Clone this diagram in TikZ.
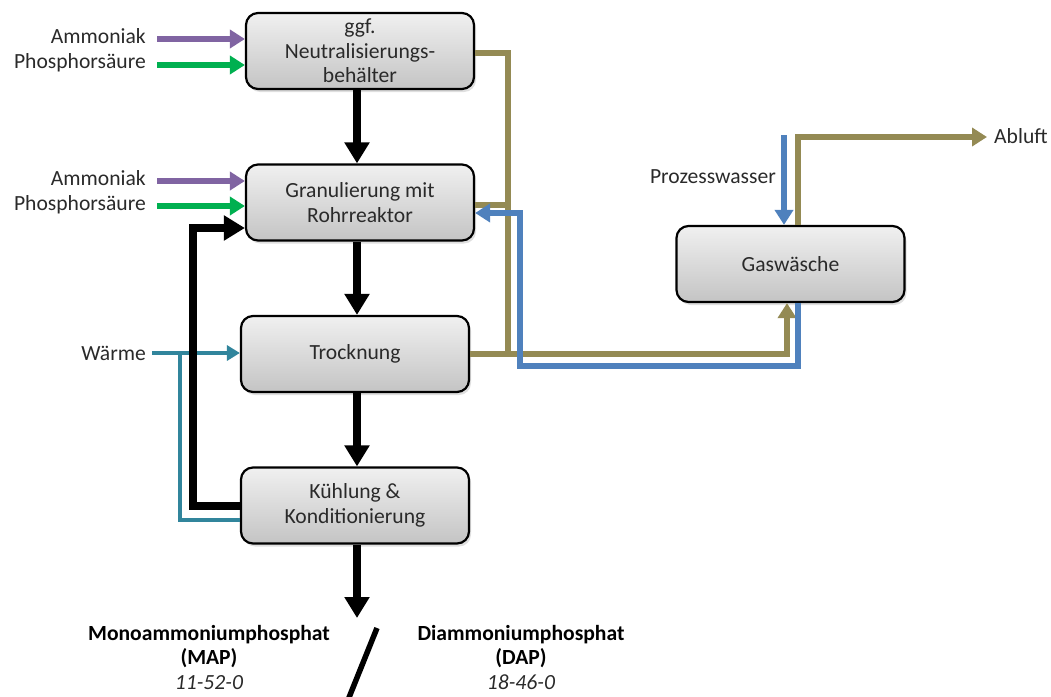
\documentclass[tikz,border=0pt]{standalone}
\usepackage{fontspec}
\setmainfont{Carlito}
\usetikzlibrary{arrows.meta,shadows}

\definecolor{feedpurple}{HTML}{8064A2}
\definecolor{feedgreen}{HTML}{00B050}
\definecolor{gasolive}{HTML}{948A54}
\definecolor{waterblue}{HTML}{4F81BD}
\definecolor{heatteal}{HTML}{31859C}
\definecolor{txtgray}{HTML}{2A2A2A}
\definecolor{boxtop}{RGB}{240,240,240}
\definecolor{boxbottom}{RGB}{196,196,196}

\begin{document}
\begin{tikzpicture}[x=1pt,y=-1pt,
  font=\fontsize{21.6}{24.5}\selectfont,
  stage/.style={draw=black, line width=2.2pt, rounded corners=12pt,
    minimum width=228pt, minimum height=76pt, inner sep=0pt,
    align=center, text=txtgray, top color=boxtop, bottom color=boxbottom,
    drop shadow={opacity=0.25, shadow xshift=2pt, shadow yshift=-3pt}},
  lbl/.style={text=txtgray, inner sep=0pt},
  bigtip/.style={-{Triangle[length=21pt,width=24pt]}},
  smalltip/.style={-{Triangle[length=15pt,width=18pt]}},
  solidflow/.style={draw=black, line width=8pt},
  feedA/.style={draw=feedpurple, line width=6pt, smalltip},
  feedB/.style={draw=feedgreen, line width=6pt, smalltip},
  gasflow/.style={draw=gasolive, line width=6pt},
  waterflow/.style={draw=waterblue, line width=6pt},
  heatflow/.style={draw=heatteal, line width=3.5pt}
]
\useasboundingbox (0,0) rectangle (1051,696);

% process stages
\node[stage] (neut) at (360,51)    {ggf.\\Neutralisierungs-\\behälter};
\node[stage] (gran) at (360,202.5) {Granulierung mit\\Rohrreaktor};
\node[stage] (dry)  at (355,354)   {Trocknung};
\node[stage] (cool) at (355,505.5) {Kühlung \&\\Konditionierung};
\node[stage] (wash) at (790.5,264) {Gaswäsche};

% side labels
\node[lbl, anchor=base east] (ammA)  at (146,43)  {Ammoniak};
\node[lbl, anchor=base east] (phosA) at (146,68)  {Phosphorsäure};
\node[lbl, anchor=base east] (ammB)  at (146,185) {Ammoniak};
\node[lbl, anchor=base east] (phosB) at (146,210) {Phosphorsäure};
\node[lbl, anchor=base east] (heat)  at (146,360) {Wärme};
\node[lbl, anchor=base east] (water) at (776,183) {Prozesswasser};
\node[lbl, anchor=base west] (exhaust) at (994,143) {Abluft};

% products
\node[align=center, text=black, inner sep=0pt] (map) at (209,657)
  {\textbf{Monoammoniumphosphat}\\\textbf{(MAP)}\\{\color{txtgray}\textit{11-52-0}}};
\node[align=center, text=black, inner sep=0pt] (dap) at (521,657)
  {\textbf{Diammoniumphosphat}\\\textbf{(DAP)}\\{\color{txtgray}\textit{18-46-0}}};

% helper coordinates
\coordinate (ammAin)  at (157,39);
\coordinate (phosAin) at (157,65);
\coordinate (ammBin)  at (157,181);
\coordinate (phosBin) at (157,206);
\coordinate (heatin)  at (152,353);
\coordinate (heatsplit) at (180,353);
\coordinate (heatY)   at (0,520);
\coordinate (ax)      at (357,0);
\coordinate (prodend) at (357,618);
\coordinate (recY1)   at (0,506);
\coordinate (recX)    at (193,0);
\coordinate (recY2)   at (0,228);
\coordinate (gasY1)   at (0,53);
\coordinate (gasY2)   at (0,205);
\coordinate (gasX)    at (508,0);
\coordinate (gasX2)   at (787,0);
\coordinate (ablX)    at (798,0);
\coordinate (ablend)  at (987,137);
\coordinate (waterin) at (784,135);
\coordinate (retX)    at (798,0);
\coordinate (retY)    at (0,366);
\coordinate (retX2)   at (520,0);
\coordinate (retY2)   at (0,213);
\coordinate (slashA)  at (377,628);
\coordinate (slashB)  at (348,700);

% raw material feeds
\draw[feedA] (ammAin)  -- (ammAin -| neut.west);
\draw[feedB] (phosAin) -- (phosAin -| neut.west);
\draw[feedA] (ammBin)  -- (ammBin -| gran.west);
\draw[feedB] (phosBin) -- (phosBin -| gran.west);

% heat supply
\draw[heatflow, -{Triangle[length=13pt,width=15pt]}] (heatin) -- (heatin -| dry.west);
\draw[heatflow] (heatsplit) |- (heatY -| cool.west);

% recycle of fines
\draw[solidflow, bigtip] (recY1 -| cool.west) -| (recX |- recY2) -- (recY2 -| gran.west);

% main solids route
\draw[solidflow, bigtip] (neut.south -| ax) -- (gran.north -| ax);
\draw[solidflow, bigtip] (gran.south -| ax) -- (dry.north -| ax);
\draw[solidflow, bigtip] (dry.south -| ax)  -- (cool.north -| ax);
\draw[solidflow, bigtip] (cool.south -| ax) -- (prodend);

% off-gas to scrubber
\draw[gasflow] (gasY1 -| neut.east) -| (gasX |- dry.east);
\draw[gasflow] (gasY2 -| gran.east) -- (gasY2 -| gasX);
\draw[gasflow, smalltip] (dry.east) -| (gasX2 |- wash.south);
\draw[gasflow, smalltip] (ablX |- wash.north) |- (ablend);

% scrubber water
\draw[waterflow, smalltip] (waterin) -- (waterin |- wash.north);
\draw[waterflow, smalltip] (retX |- wash.south) |- (retX2 |- retY) |- (retY2 -| gran.east);

% product separator
\draw[line width=5.5pt] (slashA) -- (slashB);
\end{tikzpicture}
\end{document}
